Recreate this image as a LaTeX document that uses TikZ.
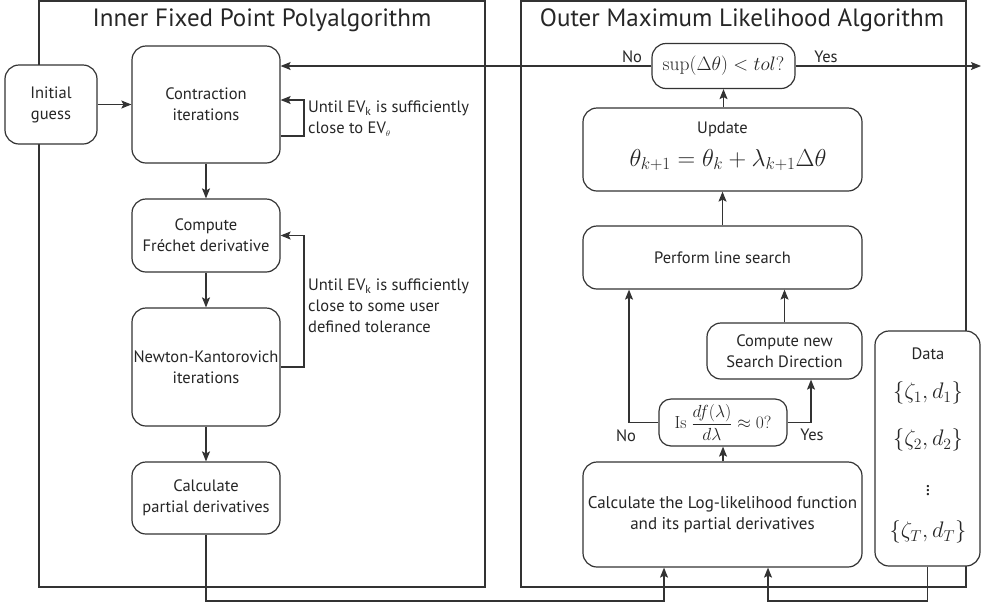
\RequirePackage{fix-cm}
\documentclass[tikz,border=0pt]{standalone}
\usepackage{amsmath}
\usepackage[no-math]{fontspec}
\setsansfont{PT Sans}
\usetikzlibrary{arrows.meta}
\begin{document}
\begin{tikzpicture}[x=1pt,y=-1pt,
  every node/.style={font=\sffamily\fontsize{16.5}{21}\selectfont, text=black!85},
  box/.style={draw=black!80, line width=1.2pt, rounded corners=14pt, fill=white, align=center, inner sep=0pt},
  arr/.style={draw=black!80, line width=1.2pt, -{Stealth[length=10pt,width=8pt,inset=2pt]}},
  frm/.style={draw=black!80, line width=1.2pt},
  ttl/.style={font=\sffamily\fontsize{25}{30}\selectfont},
  lbl/.style={align=left, anchor=west, inner sep=0pt}]
\useasboundingbox (0,0) rectangle (981,603);
% frames
\draw[frm] (39,1) rectangle (485,587);
\draw[frm] (521,1) rectangle (966,587);
\node[ttl] (t1) at (262,20) {Inner Fixed Point Polyalgorithm};
\node[ttl] (t2) at (742,20) {Outer Maximum Likelihood Algorithm};
% left column
\node[box, minimum width=92pt, minimum height=79pt] (init) at (51,104.5) {Initial\\guess};
\node[box, minimum width=148pt, minimum height=117pt] (contr) at (206,104.5) {Contraction\\iterations};
\node[box, minimum width=148pt, minimum height=73pt] (frech) at (206,235.5) {Compute\\Fréchet derivative};
\node[box, minimum width=148pt, minimum height=118pt] (newton) at (206,367) {Newton-Kantorovich\\iterations};
\node[box, minimum width=148pt, minimum height=72pt] (calc) at (206,498) {Calculate\\partial derivatives};
\node[lbl] (l1) at (308,118.5) {Until EV\textsubscript{k} is sufficiently\\close to EV$_{\scriptscriptstyle\theta}$};
\node[lbl] (l2) at (308,306) {Until EV\textsubscript{k} is sufficiently\\close to some user\\defined tolerance};
% right column
\node[box, minimum width=143pt, minimum height=45pt] (sup) at (723.5,66) {\fontsize{19.5}{22}\selectfont$\sup(\Delta\theta)<tol?$};
\node[box, minimum width=279pt, minimum height=83pt] (upd) at (722.5,149.5) {};
\node (updt) at (722.5,129) {Update};
\node (updf) at (728,160) {\fontsize{24.5}{28}\selectfont$\theta_{k+1}=\theta_k+\lambda_{k+1}\Delta\theta$};
\node[box, minimum width=279pt, minimum height=63pt] (ls) at (722.5,257.5) {Perform line search};
\node[box, minimum width=155pt, minimum height=56pt] (csd) at (784.5,351) {Compute new\\Search Direction};
\node[box, minimum width=128pt, minimum height=47pt, rounded corners=12pt] (isd) at (723,422.5) {\fontsize{17.5}{20}\selectfont$\mathrm{Is}\ \dfrac{df(\lambda)}{d\lambda}\approx 0?$};
\node[box, minimum width=279pt, minimum height=105pt] (ll) at (722.5,514.5) {\fontsize{17}{21}\selectfont Calculate the Log-likelihood function\\\fontsize{17}{21}\selectfont and its partial derivatives};
\node[box, minimum width=105pt, minimum height=235pt] (data) at (927.5,448.5) {};
\node (dt) at (928,354) {Data};
\node (d1) at (928,393) {\fontsize{22.5}{26}\selectfont$\{\zeta_1,d_1\}$};
\node (d2) at (928,440) {\fontsize{22.5}{26}\selectfont$\{\zeta_2,d_2\}$};
\node (d3) at (928,488) {\fontsize{20}{24}\selectfont$\vdots$};
\node (d4) at (928,532) {\fontsize{22.5}{26}\selectfont$\{\zeta_T,d_T\}$};
\node (no1) at (632,57) {No};
\node (yes1) at (826,57) {Yes};
\node (no2) at (626,436) {No};
\node (yes2) at (812,435) {Yes};
\coordinate (out) at (981,66);
\coordinate (nox) at (629,0);
\coordinate (yesx) at (811,0);
\coordinate (bot) at (0,601);
\coordinate (in1) at (664,0);
\coordinate (in2) at (768,0);
\coordinate (lx) at (304,0);
% connectors
\draw[arr] (init) -- (contr);
\draw[arr] (sup.west) -- (contr.east |- sup.west);
\draw[arr] (sup.east) -- (out);
\draw[arr] ([yshift=-31.5pt]contr.east) -| (lx |- contr.east) |- ([yshift=4.5pt]contr.east);
\draw[arr] (contr) -- (frech);
\draw[arr] (frech) -- (newton);
\draw[arr] (newton) -- (calc);
\draw[arr] (newton.east) -| (lx |- frech.east) -- (frech.east);
\draw[arr] (calc.south) |- (in1 |- bot) -- (in1 |- ll.south);
\draw[arr] (data.south) |- (in2 |- bot) -- (in2 |- ll.south);
\draw[arr] (upd.north -| sup.south) -- (sup.south);
\draw[arr] (ls.north) -- (upd.south);
\draw[arr] (csd.north) -- (csd.north |- ls.south);
\draw[arr] (isd.west) -| (nox |- ls.south);
\draw[arr] (isd.east) -| (yesx |- csd.south);
\draw[arr] (ll.north -| isd.south) -- (isd.south);
\end{tikzpicture}
\end{document}
